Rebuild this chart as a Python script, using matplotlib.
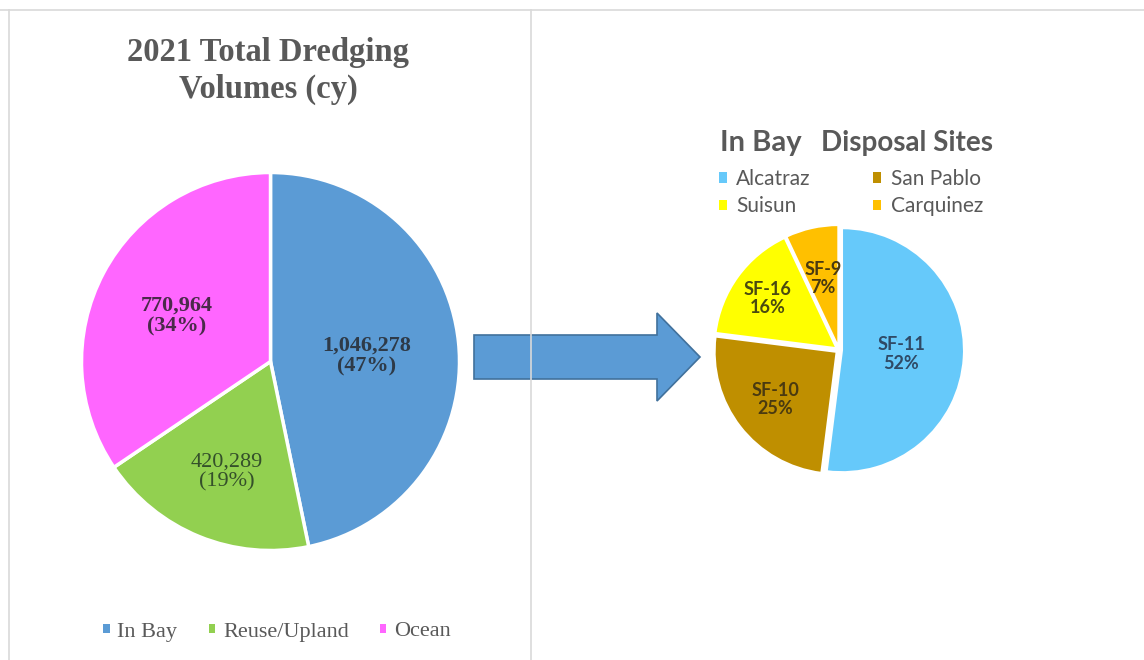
import matplotlib
matplotlib.use("Agg")
import matplotlib.pyplot as plt
from matplotlib.patches import Polygon
import numpy as np

# ---- data ----
total_categories = ["In Bay", "Reuse/Upland", "Ocean"]
total_volumes = [1046278, 420289, 770964]
total_colors = ["#5B9BD5", "#92D050", "#FF66FF"]

site_codes = ["SF-11", "SF-10", "SF-16", "SF-9"]
site_names = ["Alcatraz", "San Pablo", "Suisun", "Carquinez"]
site_pcts = [52, 25, 16, 7]
site_colors = ["#66C9FA", "#BF8F00", "#FFFF00", "#FFC000"]

W, H = 1144, 660
fig = plt.figure(figsize=(W / 100, H / 100), dpi=100)
ax = fig.add_axes([0, 0, 1, 1])

def Y(y):
    return H - y

# ---- frame lines ----
ax.plot([0, W], [Y(10), Y(10)], color="#D9D9D9", lw=1.2)
ax.plot([9, 9], [Y(10), Y(660)], color="#D9D9D9", lw=1.2)
ax.plot([531, 531], [Y(10), Y(660)], color="#D9D9D9", lw=1.2)

# ---- left pie ----
total = sum(total_volumes)
lw_, _ = ax.pie(total_volumes, colors=total_colors, startangle=90, counterclock=False,
                center=(270.5, Y(361.5)), radius=189, frame=True,
                wedgeprops=dict(edgecolor="white", linewidth=2.5))
left_r = [0.51, 0.61, 0.56]
left_tc = ["#2E3A48", "#34502A", "#4A2A4A"]
left_fw = ["bold", "normal", "bold"]
for w, v, rr, tc, fw in zip(lw_, total_volumes, left_r, left_tc, left_fw):
    th = np.deg2rad((w.theta1 + w.theta2) / 2)
    cx, cy = w.center
    ax.text(cx + rr * w.r * np.cos(th), cy + rr * w.r * np.sin(th) - 4,
            f"{v:,}\n({round(100 * v / total)}%)", ha="center", va="center",
            family="Liberation Serif", fontsize=16, fontweight=fw, color=tc,
            linespacing=1.05)

ax.text(268, Y(71), "2021 Total Dredging\nVolumes (cy)", ha="center", va="center",
        family="Liberation Serif", fontsize=23.5, fontweight="bold", color="#595959",
        linespacing=1.25)

leg1 = ax.legend(lw_, total_categories, loc="center", bbox_to_anchor=(277 / W, 1 - 632 / H),
                 ncol=3, frameon=False, handlelength=0.3, handleheight=0.3,
                 handletextpad=0.35, columnspacing=1.4,
                 prop=dict(family="Liberation Serif", size=16))
for t in leg1.get_texts():
    t.set_color("#595959")
for h in leg1.legend_handles:
    h.set_edgecolor("none")
ax.add_artist(leg1)

# ---- arrow ----
arrow_pts = [(474, 335), (657, 335), (657, 313), (700, 357), (657, 401), (657, 379), (474, 379)]
ax.add_patch(Polygon([(x, Y(y)) for x, y in arrow_pts], closed=True,
                     facecolor="#5B9BD5", edgecolor="#41719C", lw=1.2))

# ---- right pie ----
rw, _ = ax.pie(site_pcts, colors=site_colors, startangle=90, counterclock=False,
               center=(839, Y(350)), radius=122, explode=[3, 3, 3, 3], frame=True,
               wedgeprops=dict(edgecolor="white", linewidth=1.5))
right_r = [0.51, 0.66, 0.72, 0.6]
right_tc = ["#2F4A66", "#4A3A10", "#4A4A10", "#4A3A10"]
for w, code, p, rr, tc in zip(rw, site_codes, site_pcts, right_r, right_tc):
    th = np.deg2rad((w.theta1 + w.theta2) / 2)
    cx, cy = 839, Y(350)
    ax.text(cx + rr * w.r * np.cos(th), cy + rr * w.r * np.sin(th),
            f"{code}\n{p}%", ha="center", va="center", family="Lato",
            fontsize=13, fontweight="bold", color=tc, linespacing=1.1)

ax.text(720, Y(151), "In Bay", ha="left", va="baseline", family="Lato",
        fontsize=21, fontweight="bold", color="#595959")
ax.text(993, Y(151), "Disposal Sites", ha="right", va="baseline", family="Lato",
        fontsize=20, fontweight="bold", color="#595959")

order = [0, 2, 1, 3]
leg2 = ax.legend([rw[i] for i in order], [site_names[i] for i in order], loc="upper left",
                 bbox_to_anchor=(719 / W, 1 - 169 / H), ncol=2, frameon=False,
                 handlelength=0.38, handleheight=0.38, handletextpad=0.45,
                 columnspacing=3.0, labelspacing=0.35, borderpad=0, borderaxespad=0,
                 prop=dict(family="Lato", size=15))
for t in leg2.get_texts():
    t.set_color("#595959")
for h in leg2.legend_handles:
    h.set_edgecolor("none")

ax.set_xlim(0, W)
ax.set_ylim(0, H)
ax.set_aspect("equal")
ax.axis("off")
fig.savefig("out.png", dpi=100, facecolor="white")
